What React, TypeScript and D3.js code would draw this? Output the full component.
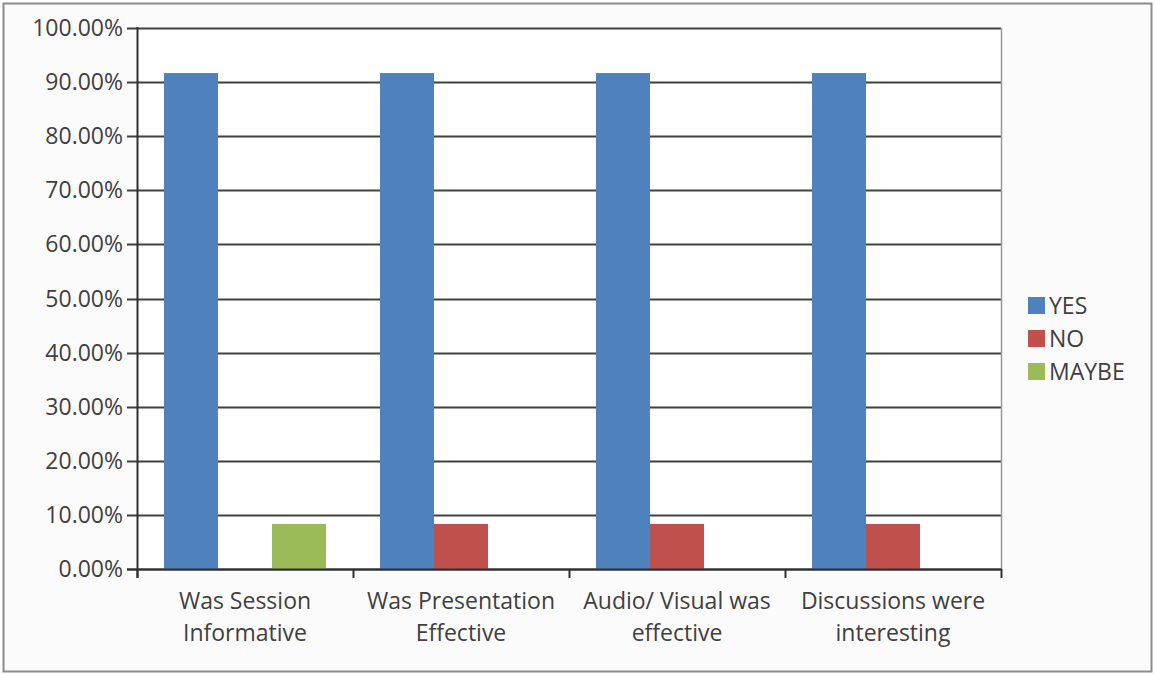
import React from "react";
import * as d3 from "d3";

const width = 1155;
const height = 674;
const margin = { top: 28, right: 154, bottom: 105, left: 137 };

const categories = [
  ["Was Session", "Informative"],
  ["Was Presentation", "Effective"],
  ["Audio/ Visual was", "effective"],
  ["Discussions were", "interesting"],
];
const seriesNames = ["YES", "NO", "MAYBE"];
const seriesColors = ["#4F81BD", "#C0504D", "#9BBB59"];
const yesValues = [0.9167, 0.9167, 0.9167, 0.9167];
const noValues = [0, 0.0833, 0.0833, 0.0833];
const maybeValues = [0.0833, 0, 0, 0];
const yTicks = [0, 0.1, 0.2, 0.3, 0.4, 0.5, 0.6, 0.7, 0.8, 0.9, 1.0];

const font = "'Open Sans', 'DejaVu Sans', sans-serif";
const fontSize = 23;

export default function App() {
  const innerW = width - margin.left - margin.right;
  const innerH = height - margin.top - margin.bottom;
  const x = d3
    .scaleBand<number>()
    .domain(d3.range(categories.length))
    .range([margin.left, margin.left + innerW]);
  const xInner = d3
    .scaleBand<number>()
    .domain(d3.range(seriesNames.length))
    .range([0, x.bandwidth()])
    .paddingOuter(0.5)
    .paddingInner(0);
  const y = d3.scaleLinear().domain([0, 1]).range([margin.top + innerH, margin.top]);
  const fmt = d3.format(".2%");
  const series = [yesValues, noValues, maybeValues];
  const boundaries = d3.range(categories.length + 1).map((i) => margin.left + i * x.step());

  return (
    <div style={{ position: "absolute", left: 0, top: 0 }}>
      <svg width={width} height={height} style={{ display: "block" }}>
        <rect x={0} y={0} width={width} height={height} fill="#ffffff" />
        <rect x={3.5} y={3.5} width={1148} height={668} fill="#fbfbfb" stroke="#8c8c8c" strokeWidth={2} />
        <rect x={margin.left} y={margin.top} width={innerW} height={innerH} fill="#ffffff" />

        {/* gridlines */}
        {yTicks.map((t) => (
          <line
            key={t}
            x1={margin.left - 10}
            x2={margin.left + innerW}
            y1={Math.round(y(t)) + 0.5}
            y2={Math.round(y(t)) + 0.5}
            stroke="#404040"
            strokeWidth={2}
          />
        ))}
        <line
          x1={margin.left + innerW + 0.5}
          x2={margin.left + innerW + 0.5}
          y1={margin.top}
          y2={margin.top + innerH}
          stroke="#9a9a9a"
          strokeWidth={1.5}
        />

        {/* bars */}
        {series.map((vals, s) =>
          vals.map((v, i) =>
            v > 0 ? (
              <rect
                key={`${s}-${i}`}
                x={(x(i) as number) + (xInner(s) as number)}
                y={y(v)}
                width={xInner.bandwidth()}
                height={y(0) - y(v)}
                fill={seriesColors[s]}
              />
            ) : null
          )
        )}

        {/* axes */}
        <line
          x1={margin.left + 0.5}
          x2={margin.left + 0.5}
          y1={margin.top - 1}
          y2={margin.top + innerH + 9}
          stroke="#303030"
          strokeWidth={2}
        />
        <line
          x1={margin.left - 10}
          x2={margin.left + innerW + 1}
          y1={y(0) + 0.5}
          y2={y(0) + 0.5}
          stroke="#303030"
          strokeWidth={2}
        />
        {boundaries.map((bx, i) => (
          <line key={i} x1={bx + 0.5} x2={bx + 0.5} y1={y(0)} y2={y(0) + 9} stroke="#303030" strokeWidth={2} />
        ))}

        {/* y labels */}
        {yTicks.map((t) => (
          <text
            key={t}
            x={margin.left - 14}
            y={y(t)}
            dy="0.35em"
            textAnchor="end"
            fontFamily={font}
            fontSize={fontSize}
            fill="#404040"
          >
            {fmt(t)}
          </text>
        ))}

        {/* x labels */}
        {categories.map((lines, i) => (
          <text
            key={i}
            x={(x(i) as number) + x.bandwidth() / 2}
            y={y(0) + 40}
            textAnchor="middle"
            fontFamily={font}
            fontSize={fontSize}
            fill="#404040"
          >
            {lines.map((l, j) => (
              <tspan key={j} x={(x(i) as number) + x.bandwidth() / 2} dy={j === 0 ? 0 : 32}>
                {l}
              </tspan>
            ))}
          </text>
        ))}

        {/* legend */}
        {seriesNames.map((name, s) => (
          <g key={name} transform={`translate(1028, ${297 + s * 33})`}>
            <rect x={0} y={0} width={17} height={17} fill={seriesColors[s]} />
            <text x={21} y={9} dy="0.35em" fontFamily={font} fontSize={fontSize} fill="#404040">
              {name}
            </text>
          </g>
        ))}
      </svg>
    </div>
  );
}
